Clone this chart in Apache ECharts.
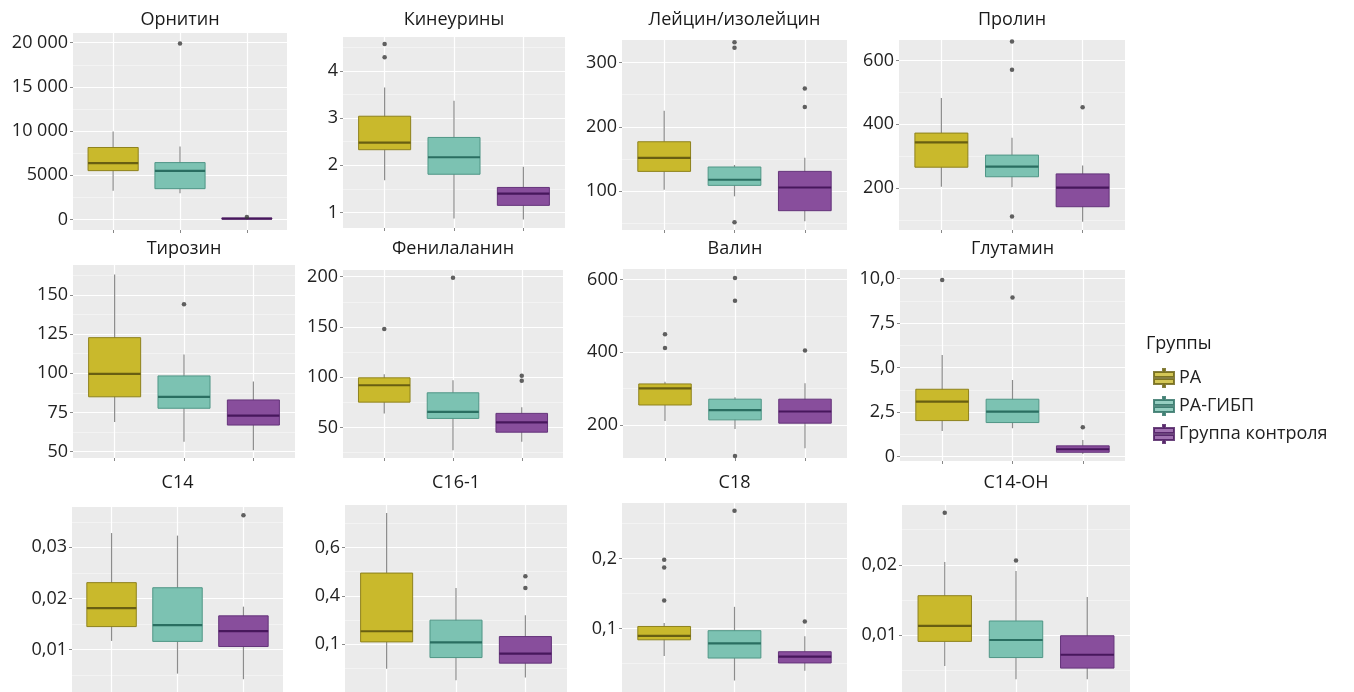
<!DOCTYPE html>
<html>
<head>
<meta charset="UTF-8">
<title>Аминокислоты и ацилкарнитины по группам</title>
<script src="https://cdn.jsdelivr.net/npm/echarts@6/dist/echarts.min.js"></script>
<style>
  html, body { margin: 0; padding: 0; background: #fff; }
  #container { width: 1354px; height: 692px; }
</style>
</head>
<body>
<div id="container"></div>
<script>
var groups = ['РА', 'РА-ГИБП', 'Группа контроля'];

// each row: [min, Q1, median, Q3, max] for РА, РА-ГИБП, Группа контроля
var ornitin = [[3250, 5520, 6360, 8140, 9950], [2950, 3480, 5490, 6430, 8250], [20, 50, 90, 140, 230]];
var ornitinOut = [[], [19900], [260]];
var ornitinTicks = [0, 5000, 10000, 15000, 20000];
var ornitinLabels = ['0', '5000', '10 000', '15 000', '20 000'];

var kineurin = [[1.68, 2.33, 2.48, 3.04, 3.65], [0.87, 1.81, 2.17, 2.59, 3.37], [0.85, 1.15, 1.40, 1.53, 1.97]];
var kineurinOut = [[4.57, 4.29], [], []];
var kineurinTicks = [1, 2, 3, 4];
var kineurinLabels = ['1', '2', '3', '4'];

var leucin = [[102.6, 131, 152, 177, 225], [92.3, 109.3, 118, 137.8, 141], [53.5, 70, 106, 131, 152]];
var leucinOut = [[], [331.6, 323, 52], [259.7, 231]];
var leucinTicks = [100, 200, 300];
var leucinLabels = ['100', '200', '300'];

var prolin = [[204, 265, 343, 372, 482], [202, 235, 267, 303, 357], [94, 141, 201, 244, 270]];
var prolinOut = [[], [659, 571, 110], [453]];
var prolinTicks = [200, 400, 600];
var prolinLabels = ['200', '400', '600'];

var tyrosin = [[69, 85, 99.6, 122.7, 163], [56.4, 77.7, 85, 98.3, 112], [51, 67, 73, 83, 94.7]];
var tyrosinOut = [[], [144], []];
var tyrosinTicks = [50, 75, 100, 125, 150];
var tyrosinLabels = ['50', '75', '100', '125', '150'];

var phenyl = [[64, 75.2, 92, 99.4, 103], [27.4, 59, 65.5, 84.5, 97], [35.7, 45.3, 55, 64, 70]];
var phenylOut = [[148], [199], [101.4, 96.4]];
var phenylTicks = [50, 100, 150, 200];
var phenylLabels = ['50', '100', '150', '200'];

var valin = [[211, 255, 301, 313, 319], [189, 214, 241, 271, 276], [136, 205, 237, 271, 315]];
var valinOut = [[450, 412], [605, 542, 114.5], [405]];
var valinTicks = [200, 400, 600];
var valinLabels = ['200', '400', '600'];

var glutamin = [[1.44, 2.02, 3.08, 3.78, 5.71], [1.59, 1.91, 2.52, 3.22, 4.30], [0.15, 0.24, 0.41, 0.60, 0.93]];
var glutaminOut = [[9.92], [8.93], [1.65]];
var glutaminTicks = [0, 2.5, 5, 7.5, 10];
var glutaminLabels = ['0', '2,5', '5,0', '7,5', '10,0'];

var c14 = [[0.0117, 0.0145, 0.0181, 0.0231, 0.0328], [0.0053, 0.0116, 0.0148, 0.0221, 0.0323], [0.0042, 0.0106, 0.0136, 0.0166, 0.0184]];
var c14Out = [[], [], [0.0363]];
var c14Ticks = [0.01, 0.02, 0.03];
var c14Labels = ['0,01', '0,02', '0,03'];

var c161 = [[0.098, 0.209, 0.253, 0.494, 0.743], [0.05, 0.144, 0.207, 0.299, 0.432], [0.061, 0.121, 0.16, 0.231, 0.319]];
var c161Out = [[], [], [0.481, 0.432]];
var c161Ticks = [0.2, 0.4, 0.6];
var c161Labels = ['0,1', '0,4', '0,6'];

var c18 = [[0.061, 0.084, 0.0895, 0.103, 0.108], [0.026, 0.058, 0.079, 0.097, 0.131], [0.040, 0.051, 0.060, 0.067, 0.089]];
var c18Out = [[0.198, 0.187, 0.140], [0.268], [0.110]];
var c18Ticks = [0.1, 0.2];
var c18Labels = ['0,1', '0,2'];

var c14oh = [[0.0056, 0.0091, 0.0113, 0.0156, 0.0204], [0.0037, 0.0068, 0.0093, 0.0120, 0.0191], [0.0037, 0.0053, 0.0072, 0.0099, 0.0154]];
var c14ohOut = [[0.0274], [0.0206], []];
var c14ohTicks = [0.01, 0.02];
var c14ohLabels = ['0,01', '0,02'];

var panels = [
    {title: 'Орнитин', stats: ornitin, out: ornitinOut, ticks: ornitinTicks, labels: ornitinLabels, range: [-1200, 21100]},
    {title: 'Кинеурины', stats: kineurin, out: kineurinOut, ticks: kineurinTicks, labels: kineurinLabels, range: [0.67, 4.72]},
    {title: 'Лейцин/изолейцин', stats: leucin, out: leucinOut, ticks: leucinTicks, labels: leucinLabels, range: [40, 335]},
    {title: 'Пролин', stats: prolin, out: prolinOut, ticks: prolinTicks, labels: prolinLabels, range: [68, 664]},
    {title: 'Тирозин', stats: tyrosin, out: tyrosinOut, ticks: tyrosinTicks, labels: tyrosinLabels, range: [46, 169]},
    {title: 'Фенилаланин', stats: phenyl, out: phenylOut, ticks: phenylTicks, labels: phenylLabels, range: [19.6, 206.7]},
    {title: 'Валин', stats: valin, out: valinOut, ticks: valinTicks, labels: valinLabels, range: [109, 629.5]},
    {title: 'Глутамин', stats: glutamin, out: glutaminOut, ticks: glutaminTicks, labels: glutaminLabels, range: [-0.25, 10.48]},
    {title: 'C14', stats: c14, out: c14Out, ticks: c14Ticks, labels: c14Labels, range: [0.0017, 0.0379]},
    {title: 'C16-1', stats: c161, out: c161Out, ticks: c161Ticks, labels: c161Labels, range: [0.0014, 0.776]},
    {title: 'C18', stats: c18, out: c18Out, ticks: c18Ticks, labels: c18Labels, range: [0.0096, 0.279]},
    {title: 'C14-OH', stats: c14oh, out: c14ohOut, ticks: c14ohTicks, labels: c14ohLabels, range: [0.0019, 0.0285]}
];

// panel rectangles in px: [left, top, right, bottom]
var rects = [
    [73, 33, 287, 230], [343, 37, 565, 228], [622, 40, 847, 230], [899, 40, 1125, 230],
    [73, 265, 295, 458], [343, 270, 563, 458], [623, 269, 847, 458], [900, 270, 1125, 461],
    [72, 507, 283, 700], [345, 505, 567, 700], [622, 503, 847, 700], [902, 505, 1130, 700]
];
var titleTops = [11, 240, 474];

var palette = [
    {fill: '#c9b92c', edge: '#8e821d', mid: '#685f12'},
    {fill: '#7cc2b2', edge: '#4f9686', mid: '#2a6e61'},
    {fill: '#884e9c', edge: '#64337a', mid: '#47175c'}
];
var font = '"Open Sans", "Noto Sans", sans-serif';

function renderBox(params, api) {
    var x = api.value(0);
    var c = palette[api.value(6)];
    var lo = api.coord([x, api.value(1)]);
    var q1 = api.coord([x, api.value(2)]);
    var md = api.coord([x, api.value(3)]);
    var q3 = api.coord([x, api.value(4)]);
    var hi = api.coord([x, api.value(5)]);
    var half = api.size([0.75, 0])[0] / 2;
    return {
        type: 'group',
        children: [
            {type: 'line', shape: {x1: lo[0], y1: lo[1], x2: hi[0], y2: hi[1]}, style: {stroke: '#8c8c8c', lineWidth: 1.2}},
            {type: 'rect', shape: {x: q3[0] - half, y: q3[1], width: half * 2, height: q1[1] - q3[1]},
                style: {fill: c.fill, stroke: c.edge, lineWidth: 1}},
            {type: 'line', shape: {x1: md[0] - half, y1: md[1], x2: md[0] + half, y2: md[1]}, style: {stroke: c.mid, lineWidth: 2.2}}
        ]
    };
}

var grid = [], xAxis = [], yAxis = [], series = [], title = [];

panels.forEach(function (p, i) {
    var r = rects[i];
    var w = r[2] - r[0];
    grid.push({left: r[0], top: r[1], width: w, height: r[3] - r[1], show: true, backgroundColor: '#ebebeb', borderWidth: 0});
    title.push({
        text: p.title, left: r[0] + w / 2, top: titleTops[Math.floor(i / 4)], textAlign: 'center', padding: 0,
        textStyle: {fontSize: 18, fontWeight: 'normal', color: '#1a1a1a', fontFamily: font}
    });
    xAxis.push({
        type: 'value', gridIndex: i, min: 0.4, max: 3.6, position: 'bottom',
        axisLine: {show: false, onZero: false}, axisLabel: {show: false},
        axisTick: {show: true, length: 3, customValues: [1, 2, 3], lineStyle: {color: '#888'}},
        splitLine: {show: true, lineStyle: {color: '#ffffff', width: 1.2}}
    });
    var step = p.ticks[1] - p.ticks[0];
    var minor = [];
    for (var v = p.ticks[0] - step / 2; v < p.range[1]; v += step) {
        if (v > p.range[0]) minor.push(v);
    }
    yAxis.push({
        type: 'value', gridIndex: i, min: p.range[0], max: p.range[1], position: 'left',
        axisLine: {show: false, onZero: false},
        axisTick: {show: true, length: 3, customValues: p.ticks, lineStyle: {color: '#888'}},
        axisLabel: {
            customValues: p.ticks, margin: 5, fontSize: 18, color: '#222', fontFamily: font,
            formatter: function (val) {
                var best = 0;
                for (var k = 1; k < p.ticks.length; k++) {
                    if (Math.abs(p.ticks[k] - val) < Math.abs(p.ticks[best] - val)) best = k;
                }
                return p.labels[best];
            }
        },
        splitLine: {show: true, lineStyle: {color: '#ffffff', width: 1.2}}
    });
    yAxis.push({
        type: 'value', gridIndex: i, min: p.range[0], max: p.range[1], position: 'left',
        axisLine: {show: false, onZero: false}, axisLabel: {show: false},
        axisTick: {show: false, customValues: minor},
        splitLine: {show: true, lineStyle: {color: '#f8f8f8', width: 0.6}}
    });
    series.push({
        type: 'custom', xAxisIndex: i, yAxisIndex: 2 * i, z: 3, silent: true,
        data: p.stats.map(function (s, g) { return [g + 1].concat(s).concat([g]); }),
        encode: {x: 0, y: [1, 2, 3, 4, 5]},
        renderItem: renderBox
    });
    var pts = [];
    p.out.forEach(function (list, g) {
        list.forEach(function (val) { pts.push([g + 1, val]); });
    });
    series.push({
        type: 'scatter', xAxisIndex: i, yAxisIndex: 2 * i, z: 4, silent: true,
        symbolSize: 4.5, itemStyle: {color: '#3a3a3a'}, data: pts
    });
});

groups.forEach(function (name, g) {
    series.push({
        type: 'scatter', name: name, xAxisIndex: 0, yAxisIndex: 0, data: [],
        itemStyle: {color: palette[g].fill, borderColor: palette[g].mid, borderWidth: 1}
    });
});

title.push({text: 'Группы', left: 1146, top: 335, padding: 0,
    textStyle: {fontSize: 18, fontWeight: 'normal', color: '#1a1a1a', fontFamily: font}});

var mycharts = echarts.init(document.getElementById('container'));
mycharts.setOption({
    animation: false,
    title: title,
    grid: grid,
    xAxis: xAxis,
    yAxis: yAxis,
    legend: {
        data: groups, orient: 'vertical', left: 1153, top: 368, padding: 0,
        itemWidth: 20, itemHeight: 18, itemGap: 8, selectedMode: false,
        icon: 'path://M0,3 L20,3 L20,8 L0,8 Z M0,10 L20,10 L20,15 L0,15 Z M9,0 L11,0 L11,3 L9,3 Z M9,15 L11,15 L11,18 L9,18 Z',
        textStyle: {fontSize: 18, color: '#222', fontFamily: font, lineHeight: 20}
    },
    series: series
});
</script>
</body>
</html>
